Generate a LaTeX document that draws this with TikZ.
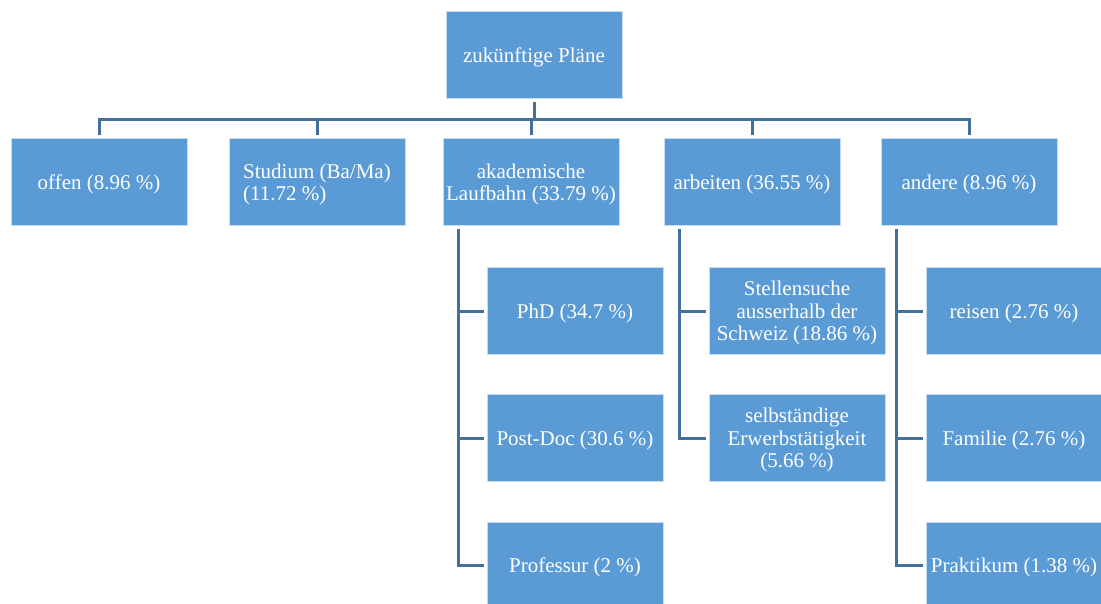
\documentclass[tikz,border=0pt]{standalone}
\usepackage{fontspec}
\setmainfont{Liberation Serif}
\definecolor{boxfill}{HTML}{5B9BD5}
\definecolor{boxedge}{HTML}{C7DCF0}
\definecolor{linecol}{HTML}{41719C}
\begin{document}
\begin{tikzpicture}[x=1pt,y=-1pt,
  box/.style={fill=boxfill,draw=boxedge,line width=1pt,minimum width=176pt,minimum height=87pt,
    inner sep=2pt,text=white,align=center,font=\fontsize{21}{22.5}\selectfont},
  txt/.style={text=white,align=center,font=\fontsize{21}{22.5}\selectfont,inner sep=0pt},
  conn/.style={draw=linecol,line width=3pt,shorten <=3pt,shorten >=3pt}]
\clip (0,0) rectangle (1101,604);
\node[box] (root) at (534,55.5) {};
\node[box] (offen) at (99,182.5) {};
\node[box] (stud) at (317,182.5) {};
\node[box] (akad) at (531,182.5) {};
\node[box] (arb) at (752,182.5) {};
\node[box] (and) at (969,182.5) {};
\node[box] (phd) at (575,311) {};
\node[box] (pd) at (575,438) {};
\node[box] (prof) at (575,565.5) {};
\node[box] (stell) at (797,311) {};
\node[box] (selb) at (797,438) {};
\node[box] (reis) at (1014,311) {};
\node[box] (fam) at (1014,438) {};
\node[box] (prak) at (1014,565.5) {};
\node[txt] (troot) at ([yshift=-2pt]root.center) {zukünftige Pläne};
\node[txt] (toffen) at ([yshift=-2pt]offen.center) {offen (8.96 \%)};
\node[txt,align=left] (tstud) at ([yshift=-2pt]stud.center) {Studium (Ba/Ma)\\(11.72 \%)};
\node[txt] (takad) at ([yshift=-2pt]akad.center) {akademische\\Laufbahn (33.79 \%)};
\node[txt] (tarb) at ([yshift=-2pt]arb.center) {arbeiten (36.55 \%)};
\node[txt] (tand) at ([yshift=-2pt]and.center) {andere (8.96 \%)};
\node[txt] (tphd) at ([yshift=-2pt]phd.center) {PhD (34.7 \%)};
\node[txt] (tpd) at ([yshift=-2pt]pd.center) {Post-Doc (30.6 \%)};
\node[txt] (tprof) at ([yshift=-2pt]prof.center) {Professur (2 \%)};
\node[txt] (tstell) at ([yshift=-2pt]stell.center) {Stellensuche\\ausserhalb der\\Schweiz (18.86 \%)};
\node[txt] (tselb) at ([yshift=-2pt]selb.center) {selbständige\\Erwerbstätigkeit\\(5.66 \%)};
\node[txt] (treis) at ([yshift=-2pt]reis.center) {reisen (2.76 \%)};
\node[txt] (tfam) at ([yshift=-2pt]fam.center) {Familie (2.76 \%)};
\node[txt] (tprak) at ([yshift=-2pt]prak.center) {Praktikum (1.38 \%)};
\coordinate (bar) at (534,120);
\draw[conn,shorten >=0pt] (root.south) -- (bar);
\foreach \n in {offen,stud,akad,arb,and}{
  \draw[conn,shorten >=0pt] (\n.north) |- (bar);
}
\coordinate (as) at ([xshift=16pt]akad.south west);
\coordinate (rs) at ([xshift=16pt]arb.south west);
\coordinate (ns) at ([xshift=16pt]and.south west);
\draw[conn] (as) |- (prof.west);
\draw[conn,shorten <=0pt] (as |- phd) -- (phd.west);
\draw[conn,shorten <=0pt] (as |- pd) -- (pd.west);
\draw[conn] (rs) |- (selb.west);
\draw[conn,shorten <=0pt] (rs |- stell) -- (stell.west);
\draw[conn] (ns) |- (prak.west);
\draw[conn,shorten <=0pt] (ns |- reis) -- (reis.west);
\draw[conn,shorten <=0pt] (ns |- fam) -- (fam.west);
\end{tikzpicture}
\end{document}
